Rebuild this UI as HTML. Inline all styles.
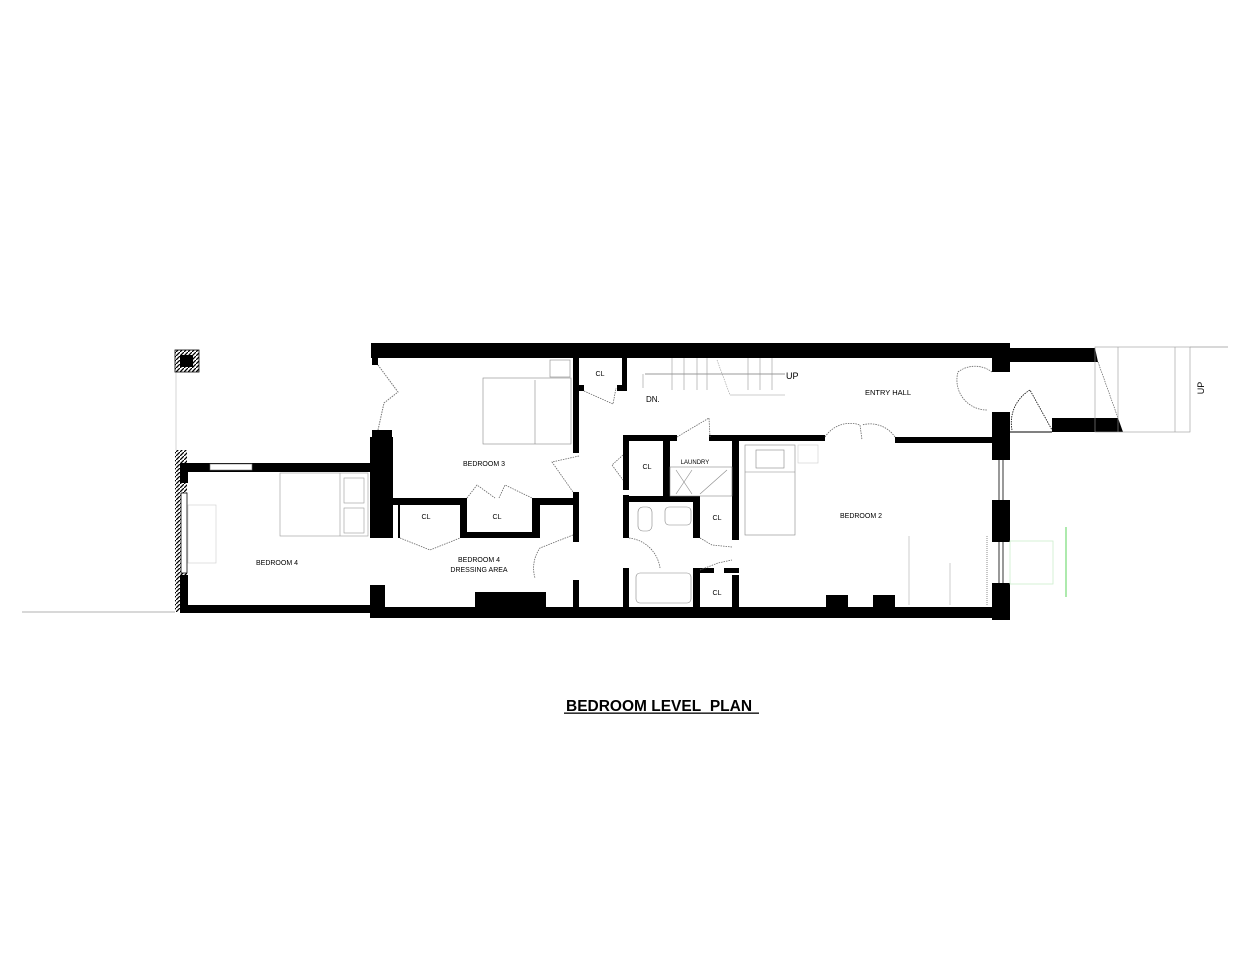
<!DOCTYPE html>
<html><head><meta charset="utf-8"><style>
html,body{margin:0;padding:0;background:#fff;}
svg{display:block}
text{font-family:"Liberation Sans",sans-serif;fill:#000}
.s{font-size:7px}
</style></head><body>
<svg width="1250" height="965" viewBox="0 0 1250 965" xmlns="http://www.w3.org/2000/svg">
<rect width="1250" height="965" fill="#fff"/>
<defs>
<pattern id="h" width="4" height="4" patternUnits="userSpaceOnUse"><rect width="4" height="4" fill="#fff"/><path d="M0 4L4 0" stroke="#000" stroke-width="1.3"/></pattern>
</defs>
<!-- thin lines -->
<line x1="22" y1="612" x2="175" y2="612" stroke="#999" stroke-width="0.8"/>
<line x1="1190" y1="347" x2="1228" y2="347" stroke="#999" stroke-width="0.8"/>
<line x1="176" y1="372" x2="176" y2="450" stroke="#ccc" stroke-width="0.8"/>
<!-- chimney -->
<rect x="175" y="350" width="24" height="22" fill="url(#h)" stroke="#000" stroke-width="0.8"/>
<rect x="180" y="355" width="13" height="12" fill="#000"/>
<!-- bedroom 4 annex -->
<rect x="175" y="450" width="12" height="162" fill="url(#h)"/>
<rect x="180" y="465" width="8" height="18" fill="#000"/>
<rect x="180" y="575" width="8" height="30" fill="#000"/>
<rect x="181" y="493" width="6" height="80" fill="#fff" stroke="#000" stroke-width="0.8"/>
<rect x="180" y="463" width="195" height="9" fill="#000"/>
<rect x="210" y="464" width="42" height="6" fill="#fff" stroke="#777" stroke-width="0.6"/>
<rect x="180" y="605" width="195" height="8" fill="#000"/>
<rect x="370" y="437" width="23" height="101" fill="#000"/>
<rect x="370" y="585" width="15" height="33" fill="#000"/>
<!-- bedroom 4 bed -->
<rect x="280" y="473" width="88" height="63" fill="none" stroke="#999" stroke-width="0.6"/>
<line x1="340" y1="473" x2="340" y2="536" stroke="#999" stroke-width="0.6"/>
<rect x="344" y="478" width="20" height="25" fill="none" stroke="#999" stroke-width="0.6"/>
<rect x="344" y="508" width="20" height="25" fill="none" stroke="#999" stroke-width="0.6"/>
<rect x="188" y="505" width="28" height="58" fill="none" stroke="#ccc" stroke-width="0.6"/>
<!-- main outer walls -->
<rect x="371" y="343" width="639" height="15" fill="#000"/>
<rect x="371" y="607" width="639" height="11" fill="#000"/>
<rect x="372" y="343" width="6" height="22" fill="#000"/>
<rect x="372" y="430" width="20" height="10" fill="#000"/>
<rect x="992" y="343" width="18" height="29" fill="#000"/>
<rect x="992" y="412" width="18" height="48" fill="#000"/>
<rect x="992" y="500" width="18" height="42" fill="#000"/>
<rect x="992" y="583" width="18" height="37" fill="#000"/>
<line x1="999" y1="460" x2="999" y2="500" stroke="#000" stroke-width="0.8"/><line x1="1003" y1="460" x2="1003" y2="500" stroke="#000" stroke-width="0.8"/>
<line x1="999" y1="542" x2="999" y2="583" stroke="#000" stroke-width="0.8"/><line x1="1003" y1="542" x2="1003" y2="583" stroke="#000" stroke-width="0.8"/>
<rect x="475" y="592" width="71" height="15" fill="#000"/>
<rect x="826" y="595" width="22" height="12" fill="#000"/>
<rect x="873" y="595" width="22" height="12" fill="#000"/>
<!-- bedroom3 folding door -->
<polyline points="378,365 398,392 384,403 378,430" fill="none" stroke="#777" stroke-width="1" stroke-dasharray="1.5,1"/>
<!-- interior walls -->
<rect x="573" y="358" width="6" height="95" fill="#000"/>
<rect x="573" y="492" width="6" height="50" fill="#000"/>
<rect x="573" y="580" width="6" height="28" fill="#000"/>
<rect x="578" y="385" width="6" height="6" fill="#000"/>
<rect x="617" y="385" width="10" height="6" fill="#000"/>
<rect x="622" y="358" width="5" height="33" fill="#000"/>
<rect x="393" y="498" width="74" height="7" fill="#000"/>
<rect x="532" y="498" width="46" height="7" fill="#000"/>
<rect x="460" y="498" width="7" height="40" fill="#000"/>
<rect x="532" y="498" width="8" height="40" fill="#000"/>
<rect x="460" y="532" width="80" height="6" fill="#000"/>
<rect x="398" y="505" width="2" height="33" fill="#000"/>
<rect x="623" y="435" width="54" height="6" fill="#000"/>
<rect x="709" y="435" width="116" height="6" fill="#000"/>
<rect x="895" y="437" width="97" height="6" fill="#000"/>
<rect x="623" y="435" width="6" height="55" fill="#000"/>
<rect x="623" y="495" width="6" height="43" fill="#000"/>
<rect x="623" y="568" width="6" height="40" fill="#000"/>
<rect x="663" y="437" width="7" height="63" fill="#000"/>
<rect x="623" y="496" width="77" height="6" fill="#000"/>
<rect x="693" y="496" width="7" height="42" fill="#000"/>
<rect x="693" y="568" width="7" height="40" fill="#000"/>
<rect x="732" y="435" width="7" height="105" fill="#000"/>
<rect x="732" y="575" width="7" height="33" fill="#000"/>
<rect x="700" y="568" width="14" height="5" fill="#000"/>
<rect x="724" y="568" width="15" height="5" fill="#000"/>
<!-- door swings -->
<g fill="none" stroke="#666" stroke-width="0.8" stroke-dasharray="1.5,1">
<polyline points="584,391 613,404 616,388"/>
<polyline points="579,456 552,462 573,492"/>
<polyline points="467,498 477,485 495,498"/>
<polyline points="499,498 505,485 532,498"/>
<polyline points="400,538 430,550 460,538"/>
<path d="M573,535 L540,548 A35 35 0 0 0 535,578"/>
<polyline points="623,455 612,465 623,480"/>
<polyline points="677,437 709,418 710,437"/>
<path d="M629,538 A35 35 0 0 1 660,568"/>
<polyline points="700,538 712,545 732,547"/>
<polyline points="700,570 718,563 732,560"/>
<path d="M825,437 A30 30 0 0 1 860,425 L862,440"/>
<path d="M895,437 A30 30 0 0 0 862,425"/>
<path d="M992,372 A28 28 0 0 0 958,372 A30 30 0 0 0 987,410"/>
</g>
<!-- stairs -->
<g stroke="#999" stroke-width="0.6" fill="none">
<line x1="645" y1="373" x2="1000" y2="373" stroke="none"/>
<line x1="645" y1="374" x2="785" y2="374" stroke="#333"/>
<line x1="643" y1="374" x2="643" y2="388"/>
<line x1="672" y1="358" x2="672" y2="390"/><line x1="684" y1="358" x2="684" y2="390"/><line x1="697" y1="358" x2="697" y2="390"/><line x1="707" y1="358" x2="707" y2="390"/>
<line x1="748" y1="358" x2="748" y2="390"/><line x1="760" y1="358" x2="760" y2="390"/><line x1="772" y1="358" x2="772" y2="390"/>
<line x1="717" y1="360" x2="730" y2="395" stroke-dasharray="1.5,1"/>
<line x1="730" y1="395" x2="785" y2="395"/>
</g>
<!-- appliances -->
<g fill="none" stroke="#888" stroke-width="0.6">
<rect x="670" y="467" width="62" height="29"/>
<line x1="676" y1="470" x2="692" y2="494"/><line x1="676" y1="494" x2="692" y2="470"/><line x1="700" y1="494" x2="727" y2="470"/>
<rect x="638" y="507" width="14" height="24" rx="5"/>
<rect x="665" y="507" width="26" height="18" rx="4"/>
<rect x="636" y="573" width="55" height="30" rx="4"/>
<rect x="483" y="378" width="88" height="66"/>
<line x1="535" y1="380" x2="535" y2="444"/>
<rect x="550" y="360" width="20" height="17"/>
<rect x="745" y="445" width="50" height="90"/>
<rect x="756" y="450" width="28" height="18"/>
<line x1="745" y1="472" x2="795" y2="472"/>
<rect x="798" y="445" width="20" height="18" stroke="#ccc"/>
<line x1="909" y1="536" x2="909" y2="605" stroke="#aaa"/>
<line x1="950" y1="563" x2="950" y2="605" stroke="#aaa"/>
<line x1="987" y1="536" x2="987" y2="605" stroke="#444" stroke-dasharray="1,1"/>
</g>
<!-- exterior stoop -->
<polygon points="1010,348 1095,348 1098,362 1010,362" fill="#000"/>
<polygon points="1052,418 1118,418 1123,432 1052,432" fill="#000"/>
<line x1="1010" y1="432" x2="1052" y2="432" stroke="#000" stroke-width="1"/>
<path d="M1012,430 A38 38 0 0 1 1030,390 L1052,430" fill="none" stroke="#000" stroke-width="0.8" stroke-dasharray="1.5,1"/>
<g stroke="#999" stroke-width="0.6" fill="none">
<line x1="1098" y1="362" x2="1118" y2="418" stroke="#444" stroke-dasharray="1.5,1"/>
<rect x="1095" y="347" width="95" height="85"/>
<line x1="1118" y1="347" x2="1118" y2="432"/>
<line x1="1175" y1="347" x2="1175" y2="432"/>
</g>
<g stroke="#7c7" stroke-width="0.8" fill="none">
<line x1="1066" y1="527" x2="1066" y2="597" stroke="#3c3"/>
<rect x="1010" y="541" width="43" height="43" stroke="#cec"/>
</g>
<!-- labels -->
<text class="s" x="484" y="466" text-anchor="middle">BEDROOM 3</text>
<text class="s" x="479" y="562" text-anchor="middle">BEDROOM 4</text>
<text class="s" x="479" y="572" text-anchor="middle">DRESSING AREA</text>
<text class="s" x="277" y="565" text-anchor="middle">BEDROOM 4</text>
<text class="s" x="600" y="376" text-anchor="middle">CL</text>
<text class="s" x="426" y="519" text-anchor="middle">CL</text>
<text class="s" x="497" y="519" text-anchor="middle">CL</text>
<text class="s" x="647" y="469" text-anchor="middle">CL</text>
<text class="s" x="717" y="520" text-anchor="middle">CL</text>
<text class="s" x="717" y="595" text-anchor="middle">CL</text>
<text class="s" x="695" y="464" text-anchor="middle" style="font-size:6px">LAUNDRY</text>
<text x="646" y="402" style="font-size:8px">DN.</text>
<text x="786" y="379" style="font-size:9px">UP</text>
<text x="888" y="395" text-anchor="middle" style="font-size:7.5px">ENTRY HALL</text>
<text x="861" y="518" text-anchor="middle" style="font-size:7px">BEDROOM 2</text>
<text transform="translate(1204,388) rotate(-90)" text-anchor="middle" style="font-size:9px">UP</text>
<text x="566" y="711" style="font-size:15.5px;font-weight:bold">BEDROOM LEVEL&#160; PLAN</text>
<rect x="564" y="712.5" width="195" height="1.3" fill="#000"/>
</svg>
</body></html>
